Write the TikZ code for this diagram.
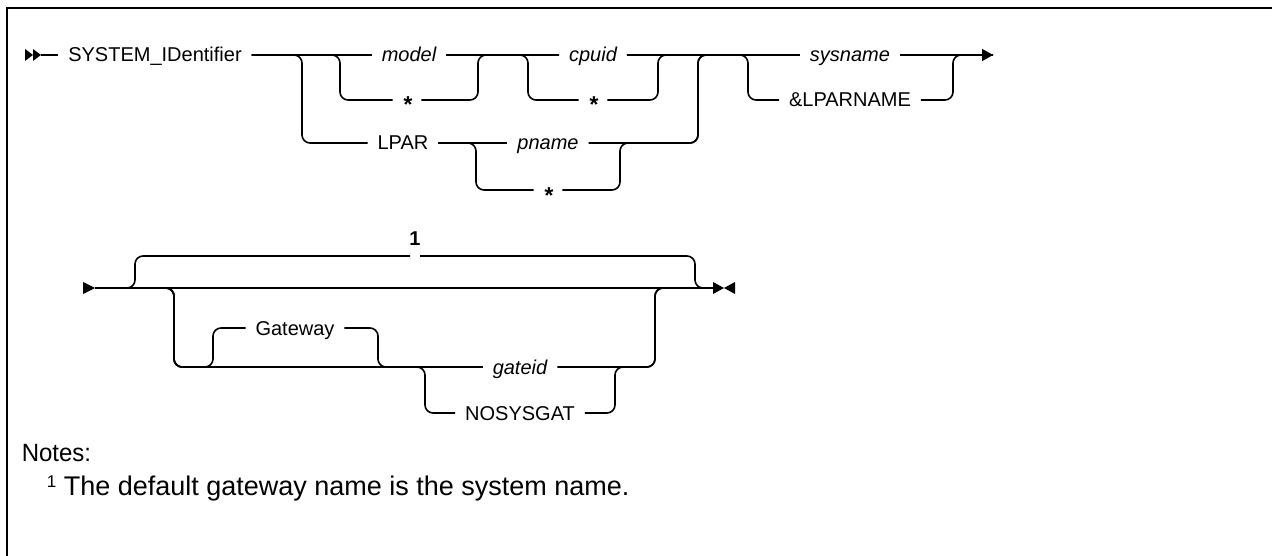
\documentclass[tikz,border=0pt]{standalone}
\usepackage{fontspec}
\setmainfont{Liberation Sans}
\newfontfamily\notefont[FakeStretch=0.96]{Liberation Sans}
\usetikzlibrary{arrows.meta}
\begin{document}
\begin{tikzpicture}[x=1pt,y=-1pt,line width=1.6pt,
  lbl/.style={inner xsep=10pt,inner ysep=0pt,outer sep=0pt,text height=14pt,text depth=0pt,font=\fontsize{20}{24}\selectfont},
  var/.style={lbl,font=\fontsize{20}{24}\selectfont\itshape},
  ast/.style={lbl,font=\fontsize{23}{26}\selectfont\bfseries\itshape},
  rc/.style={rounded corners=8pt},
  notes/.style={anchor=west,inner sep=0pt,font=\fontsize{25}{30}\notefont},
  notetext/.style={anchor=west,inner sep=0pt,font=\fontsize{27}{32}\selectfont}]
\useasboundingbox (0,0) rectangle (1272,556);
% frame
\draw[line width=2.2pt] (7,556) -- (7,8) -- (1272,8);

% ---------- first line ----------
\fill (25,49) -- (33,55) -- (25,61) -- cycle;
\fill (33,49) -- (41,55) -- (33,61) -- cycle;
\coordinate (st) at (41,55);
\node[lbl] (sysid) at (155,55) {SYSTEM\_IDentifier};
\node[var] (model) at (409,55) {model};
\node[ast] (star1) at (407,100) {\raisebox{-6pt}{*}};
\node[var] (cpuid) at (593,55) {cpuid};
\node[ast] (star2) at (593,100) {\raisebox{-6pt}{*}};
\node[lbl] (lpar) at (403,143) {LPAR};
\node[var] (pname) at (548,143) {pname};
\node[ast] (star3) at (548,190) {\raisebox{-6pt}{*}};
\node[var] (sysname) at (850,55) {sysname};
\node[lbl] (lparname) at (850,100) {\&LPARNAME};
\coordinate (end1) at (993,55);

\draw (st) -- (sysid.west);
\draw (sysid.east) -- (model.west);
\draw (model.east) -- (cpuid.west);
\draw (cpuid.east) -- (sysname.west);
\draw[-{Triangle[length=11pt,width=12pt]}] (sysname.east) -- (end1);

\draw[rc] (sysid.east) -- (302,55) -- (302,143) -- (lpar.west);
\draw[rc] (sysid.east) -- (340,55) -- (340,100) -- (star1.west);
\draw[rc] (star1.east) -- (478,100) -- (478,55) -- (cpuid.west);
\draw[rc] (model.east) -- (528,55) -- (528,100) -- (star2.west);
\draw[rc] (star2.east) -- (658,100) -- (658,55) -- (sysname.west);
\draw (lpar.east) -- (pname.west);
\draw[rc] (lpar.east) -- (476,143) -- (476,190) -- (star3.west);
\draw[rc] (star3.east) -- (620,190) -- (620,143) -- (698,143) -- (698,55) -- (sysname.west);
\draw[rc] (pname.east) -- (698,143) -- (698,55) -- (sysname.west);
\draw[rc] (cpuid.east) -- (748,55) -- (748,100) -- (lparname.west);
\draw[rc] (lparname.east) -- (953,100) -- (953,55) -- (end1);

% ---------- second line ----------
\fill (83,282) -- (95,288) -- (83,294) -- cycle;
\coordinate (bstart) at (95,288);
\coordinate (bend) at (713,288);
\node[inner sep=0pt,font=\fontsize{20}{24}\selectfont\bfseries] (one) at (415,239) {1};
\coordinate (gapL) at (410,256);
\coordinate (gapR) at (420,256);
\node[lbl] (gw) at (295,328) {Gateway};
\node[var] (gateid) at (520,367) {gateid};
\node[lbl] (nosys) at (520,413) {NOSYSGAT};

\draw (bstart) -- (bend);
\draw[rc] (bstart) -- (135,288) -- (135,256) -- (gapL);
\draw[rc] (gapR) -- (695,256) -- (695,288) -- (bend);
\draw[rc] (bstart) -- (174,288) -- (174,367) -- (gateid.west);
\draw[rc] (bstart) -- (174,288) -- (174,367) -- (213,367) -- (213,328) -- (gw.west);
\draw[rc] (gw.east) -- (378,328) -- (378,367) -- (gateid.west);
\draw[rc] (bstart) -- (174,288) -- (174,367) -- (425,367) -- (425,413) -- (nosys.west);
\draw[rc] (nosys.east) -- (615,413) -- (615,367) -- (655,367) -- (655,288) -- (bend);
\draw[rc] (gateid.east) -- (655,367) -- (655,288) -- (bend);
\fill (713,282) -- (724,288) -- (713,294) -- cycle;
\fill (735,282) -- (724,288) -- (735,294) -- cycle;

% ---------- notes ----------
\node[notes] (notes) at (21,453) {Notes:};
\node[notetext] (note1) at (46,488) {\raisebox{8pt}{\fontsize{17}{19}\selectfont 1} The default gateway name is the system name.};
\end{tikzpicture}
\end{document}
